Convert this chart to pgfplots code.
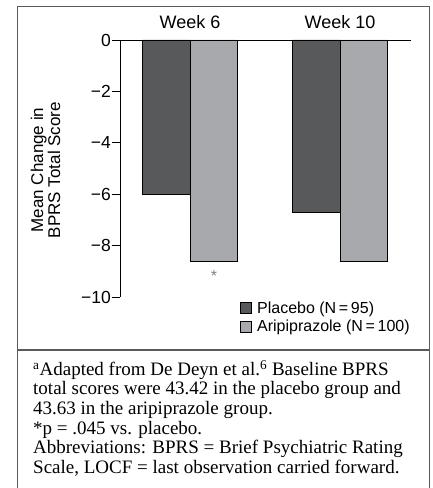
\documentclass[border=0pt]{standalone}
\usepackage{pgfplots}
\pgfplotsset{compat=1.18}
\usepackage{fontspec}
\setmainfont{Liberation Sans}
\newfontfamily\seriffont{Liberation Serif}
\definecolor{darkbar}{HTML}{58595B}
\definecolor{lightbar}{HTML}{A7A9AC}
\definecolor{framegray}{HTML}{5A5A5A}
\definecolor{stargray}{HTML}{808080}

\begin{document}
\begin{tikzpicture}[x=1pt,y=1pt]
\useasboundingbox (0,0) rectangle (433,488);
\draw[framegray, line width=1.5pt] (17.5,-5) -- (17.5,481.5) -- (429.5,481.5) -- (429.5,-5);
\draw[framegray, line width=1.5pt] (17.5,138) -- (429.5,138);
\begin{axis}[
  at={(120pt,191pt)}, anchor=south west,
  scale only axis, width=291pt, height=257pt,
  xmin=0.5333, xmax=2.4733, ymin=-10, ymax=0,
  axis x line=top, axis y line=left,
  axis line style={-, black, line width=0.8pt},
  xtick={1,2}, xticklabels={Week 6, Week 10},
  x tick style={draw=none},
  xticklabel style={font=\fontsize{18}{20}\selectfont},
  ytick={-10,-8,-6,-4,-2,0}, yticklabels={−10,−8,−6,−4,−2,0},
  yticklabel style={font=\fontsize{17.5}{19}\selectfont, inner sep=1pt},
  y tick style={black, line width=0.8pt},
  tick align=outside, major tick length=8pt,
  ybar, bar width=47.5pt,
  legend style={at={(axis description cs:0.413,-0.01)}, anchor=north west, draw=none, fill=none,
    font=\fontsize{16}{18}\selectfont, inner sep=0pt, row sep=1pt, column sep=3pt},
  legend cell align=left,
]
\addplot[fill=darkbar, draw=black, line width=0.7pt, bar shift=-23.75pt,
  legend image code/.code={\draw[fill=darkbar, draw=black, line width=0.8pt] (0pt,-5.5pt) rectangle (11pt,5.5pt);}]
  coordinates {(1,-6.0) (2,-6.7)};
\addplot[fill=lightbar, draw=black, line width=0.7pt, bar shift=23.75pt,
  legend image code/.code={\draw[fill=lightbar, draw=black, line width=0.8pt] (0pt,-5.5pt) rectangle (11pt,5.5pt);}]
  coordinates {(1,-8.6) (2,-8.6)};
\legend{Placebo (N\,=\,95), Aripiprazole (N\,=\,100)}
\node[text=stargray, font=\fontsize{16}{16}\selectfont, anchor=base, inner sep=0pt] at (axis cs:1.16,-9.4) {*};
\end{axis}
\node[rotate=90, align=center, font=\fontsize{17}{17}\selectfont] at (45.5,318) {Mean Change in\\BPRS Total Score};
\node[anchor=north west, align=left, inner sep=0pt, font=\seriffont\fontsize{19}{19.6}\selectfont] at (33,128)
{\textsuperscript{a}Adapted from De Deyn et al.\textsuperscript{6} Baseline BPRS\\
total scores were 43.42 in the placebo group and\\
43.63 in the aripiprazole group.\\
*p = .045 vs. placebo.\\
Abbreviations: BPRS = Brief Psychiatric Rating\\
Scale, LOCF = last observation carried forward.};
\end{tikzpicture}
\end{document}
